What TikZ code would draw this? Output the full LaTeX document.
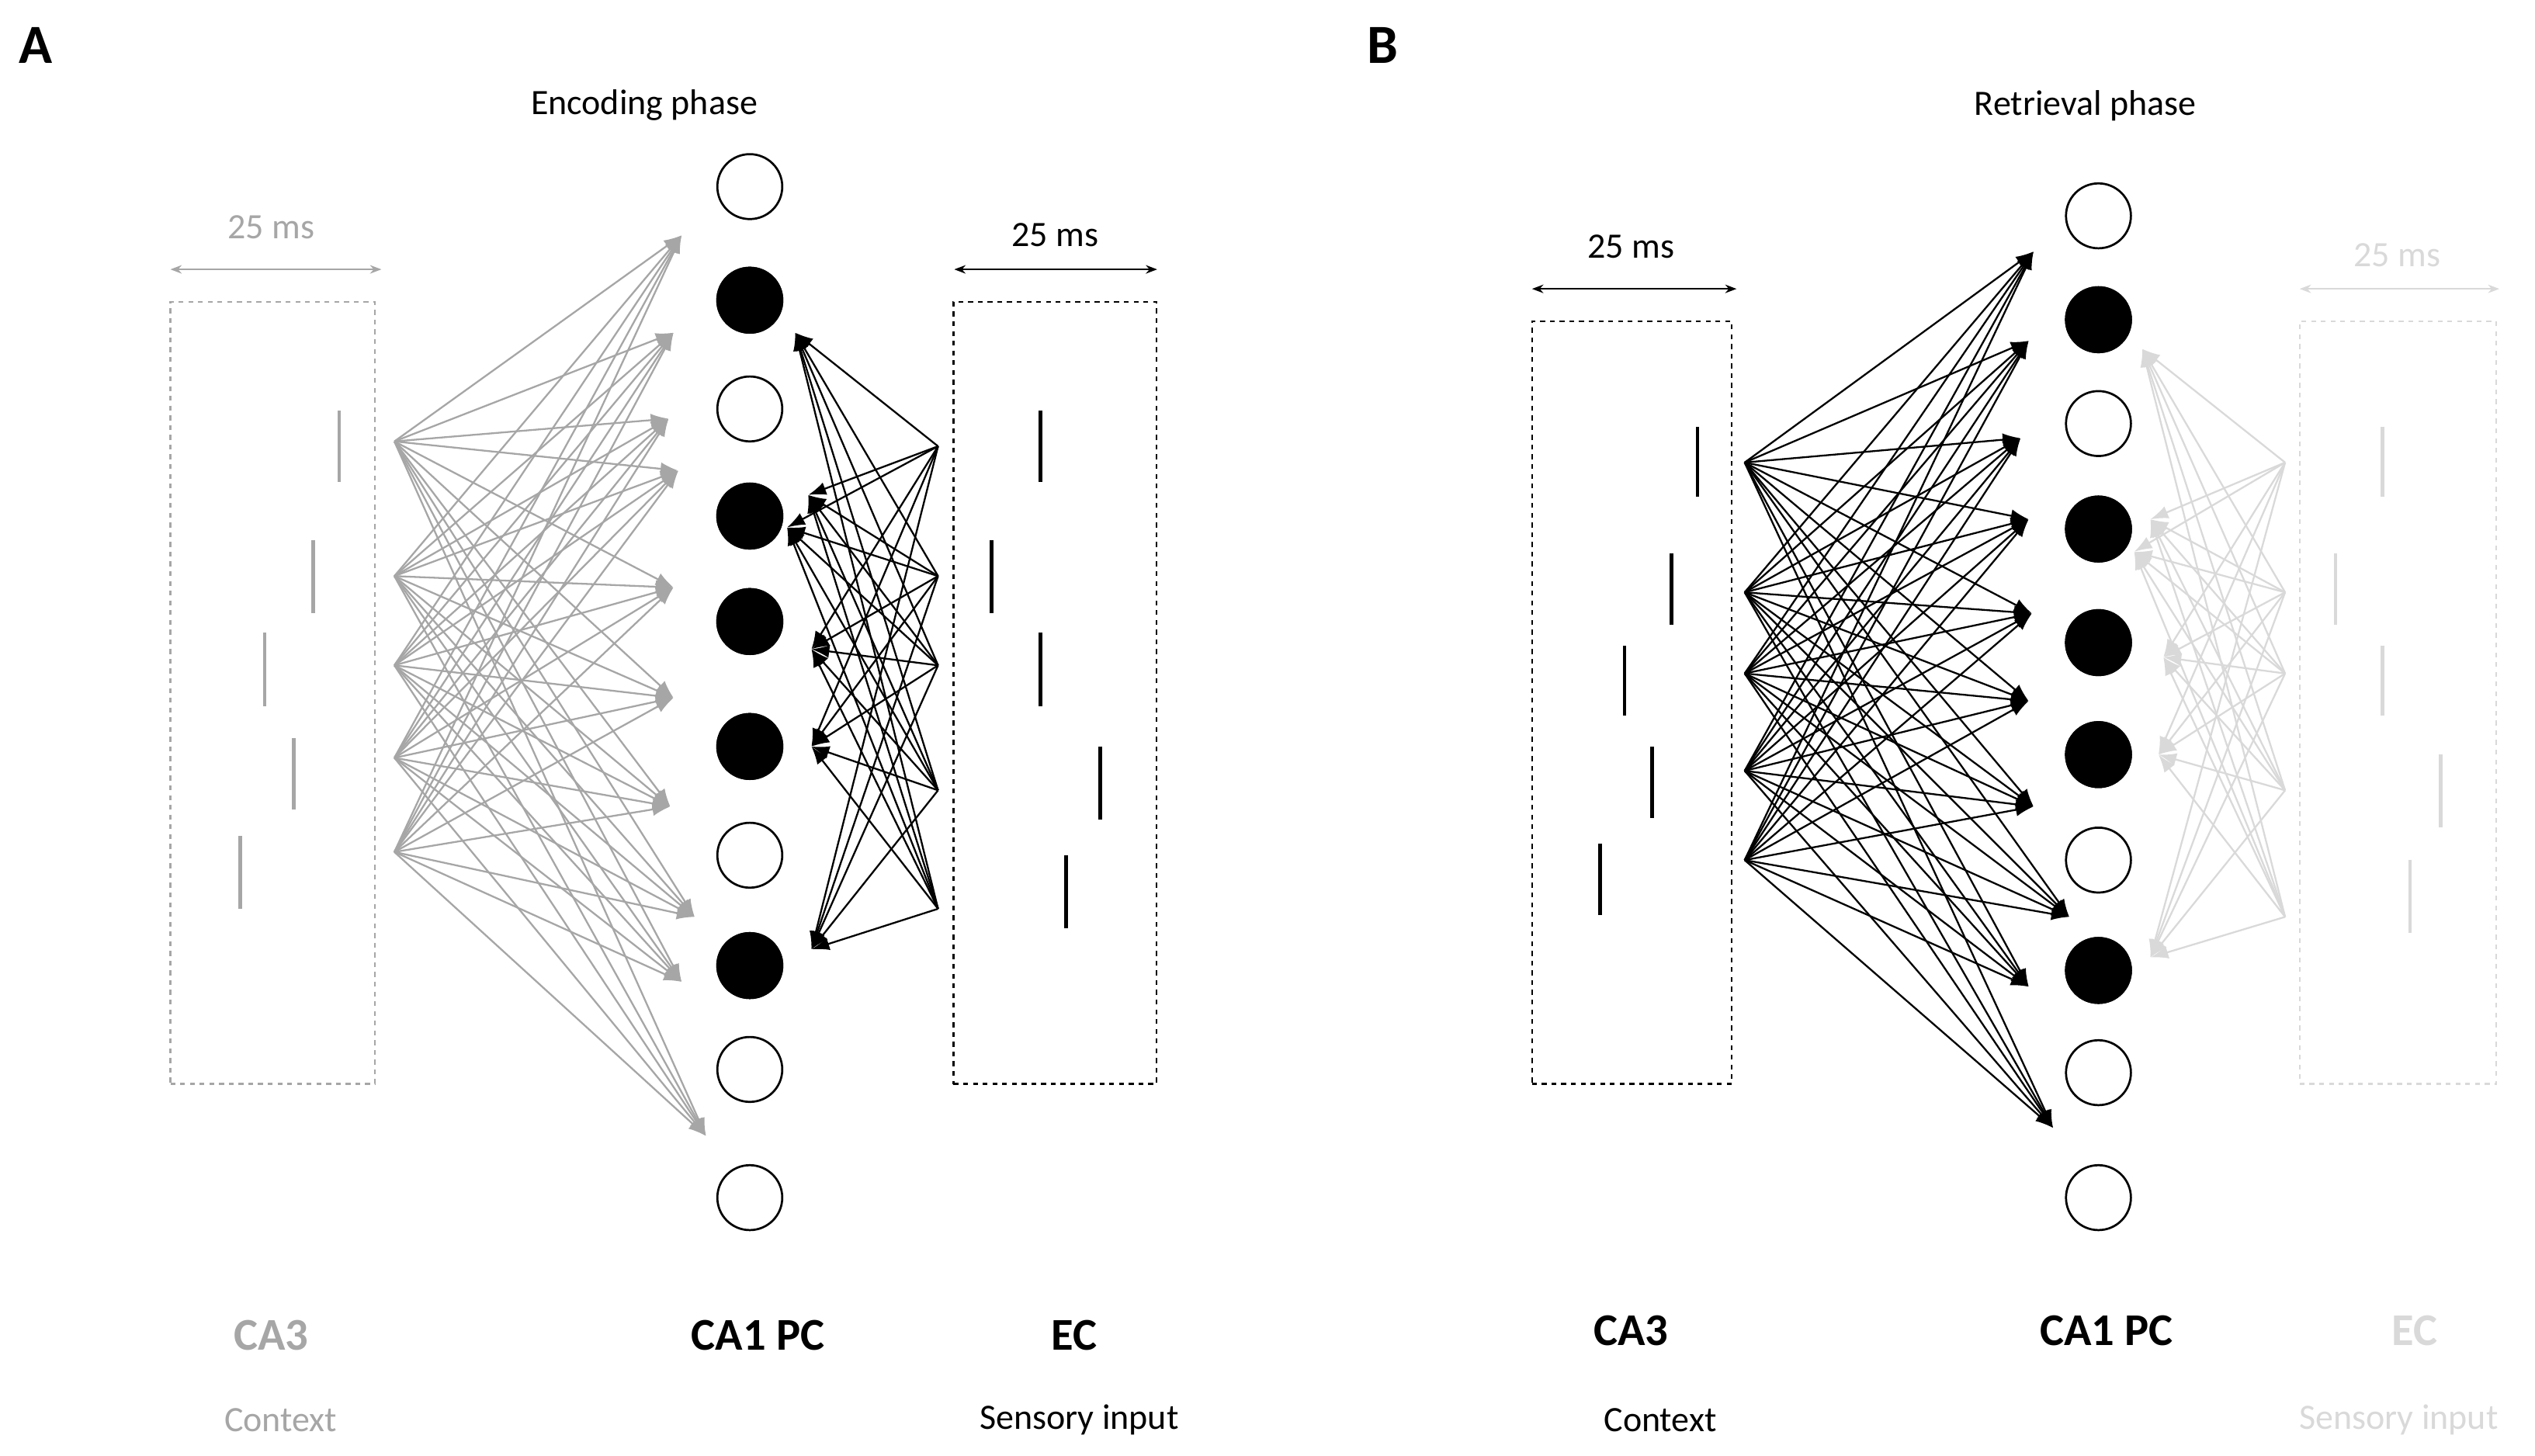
\documentclass[tikz,border=0pt]{standalone}
\usepackage{fontspec}
\setmainfont{Carlito}
\usetikzlibrary{arrows.meta}
\definecolor{gA}{HTML}{A6A6A6}
\definecolor{gL}{HTML}{D9D9D9}
\begin{document}
\begin{tikzpicture}[x=1pt,y=-1pt,
  neur/.style={circle,draw=black,line width=1.3pt,minimum size=40pt,inner sep=0pt},
  box/.style={draw,dashed,line width=1.2pt},
  spk/.style={line width=2.2pt},
  conn/.style={line width=1.1pt,-{Latex[length=11pt,width=8pt]}},
  dim/.style={<->,>={Stealth[length=7pt]},line width=0.9pt},
  lab/.style={font=\fontsize{22}{24}\selectfont},
  big/.style={font=\bfseries\fontsize{28}{30}\selectfont}]
\useasboundingbox (0,0) rectangle (1562,897);
% ---------- Panel A ----------
\node[font=\bfseries\fontsize{34}{36}\selectfont] (pa) at (22,28) {A};
\node[lab] (ta) at (397,65) {Encoding phase};
\foreach \y [count=\i] in {115,185,252,318,383,460,527,595,659,738}{
  \node[neur] (a\i) at (462,\y) {};}
\foreach \i in {2,4,5,6,8}{\node[neur,fill=black] at (a\i) {};}
\node[box,draw=gA,minimum width=126pt,minimum height=482pt,inner sep=0pt] (a3box) at (168,427) {};
\coordinate (a3l) at (105,166); \coordinate (a3r) at (235,166);
\draw[dim,gA] (a3l) -- (a3r);
\node[lab,gA] (a3t) at (167,140) {25 ms};
\foreach \x/\ya/\yb in {209/253/297,193/333/378,163/390/435,181/455/499,148/515/560}
  \draw[spk,gA] (\x,\ya) -- (\x,\yb);
\node[box,draw=black,minimum width=125pt,minimum height=482pt,inner sep=0pt] (aecbox) at (650,427) {};
\coordinate (ael) at (588,166); \coordinate (aer) at (713,166);
\draw[dim] (ael) -- (aer);
\node[lab] (aet) at (650,145) {25 ms};
\foreach \x/\ya/\yb in {641/253/297,611/333/378,641/390/435,678/460/505,657/527/572}
  \draw[spk] (\x,\ya) -- (\x,\yb);
\foreach \y [count=\i] in {272,355,410,467,525}{\coordinate (as\i) at (243,\y);}
\foreach \x/\y [count=\j] in {420/145,415/205,412/258,418/290,415/362,415/430,413/497,428/565,420/605,435/700}{\coordinate (at\j) at (\x,\y);}
\foreach \i in {1,...,5}{\foreach \j in {1,...,10}{\draw[conn,gA] (as\i) -- (at\j);}}
\foreach \y [count=\i] in {275,355,410,487,560}{\coordinate (ae\i) at (578,\y);}
\foreach \x/\y [count=\j] in {490/205,498/305,485/325,500/400,500/460,500/585}{\coordinate (ax\j) at (\x,\y);}
\foreach \i in {1,...,5}{\foreach \j in {1,...,6}{\draw[conn] (ae\i) -- (ax\j);}}
\node[big,gA] (la1) at (167,823) {CA3};
\node[big] (la2) at (467,823) {CA1 PC};
\node[big] (la3) at (662,823) {EC};
\node[lab,gA] (la4) at (173,875) {Context};
\node[lab] (la5) at (665,875) {Sensory input};
% ---------- Panel B ----------
\node[font=\bfseries\fontsize{34}{36}\selectfont] (pb) at (852,28) {B};
\node[lab] (tb) at (1285,65) {Retrieval phase};
\foreach \y [count=\i] in {133,197,261,326,396,465,530,598,661,738}{
  \node[neur] (b\i) at (1293,\y) {};}
\foreach \i in {2,4,5,6,8}{\node[neur,fill=black] at (b\i) {};}
\node[box,draw=black,minimum width=123pt,minimum height=470pt,inner sep=0pt] (b3box) at (1005.5,433) {};
\coordinate (b3l) at (944,178); \coordinate (b3r) at (1070,178);
\draw[dim] (b3l) -- (b3r);
\node[lab] (b3t) at (1005,152) {25 ms};
\foreach \x/\ya/\yb in {1046/263/306,1030/341/385,1001/398/441,1018/460/504,986/520/564}
  \draw[spk] (\x,\ya) -- (\x,\yb);
\node[box,draw=gL,minimum width=121pt,minimum height=470pt,inner sep=0pt] (becbox) at (1477.5,433) {};
\coordinate (bel) at (1417,178); \coordinate (ber) at (1540,178);
\draw[dim,gL] (bel) -- (ber);
\node[lab,gL] (bet) at (1477,157) {25 ms};
\foreach \x/\ya/\yb in {1468/263/306,1439/341/385,1468/398/441,1504/465/510,1485/530/575}
  \draw[spk,gL] (\x,\ya) -- (\x,\yb);
\foreach \y [count=\i] in {285,365,415,475,530}{\coordinate (bs\i) at (1075,\y);}
\foreach \x/\y [count=\j] in {1253/155,1250/210,1245/270,1250/320,1252/378,1250/432,1253/497,1275/565,1250/608,1265/695}{\coordinate (bt\j) at (\x,\y);}
\foreach \i in {1,...,5}{\foreach \j in {1,...,10}{\draw[conn] (bs\i) -- (bt\j);}}
\foreach \y [count=\i] in {285,365,415,487,565}{\coordinate (be\i) at (1408,\y);}
\foreach \x/\y [count=\j] in {1320/215,1325/320,1315/340,1333/405,1330/465,1325/590}{\coordinate (bx\j) at (\x,\y);}
\foreach \i in {1,...,5}{\foreach \j in {1,...,6}{\draw[conn,gL] (be\i) -- (bx\j);}}
\node[big] (lb1) at (1005,820) {CA3};
\node[big] (lb2) at (1298,820) {CA1 PC};
\node[big,gL] (lb3) at (1488,820) {EC};
\node[lab] (lb4) at (1023,875) {Context};
\node[lab,gL] (lb5) at (1478,875) {Sensory input};
\end{tikzpicture}
\end{document}
